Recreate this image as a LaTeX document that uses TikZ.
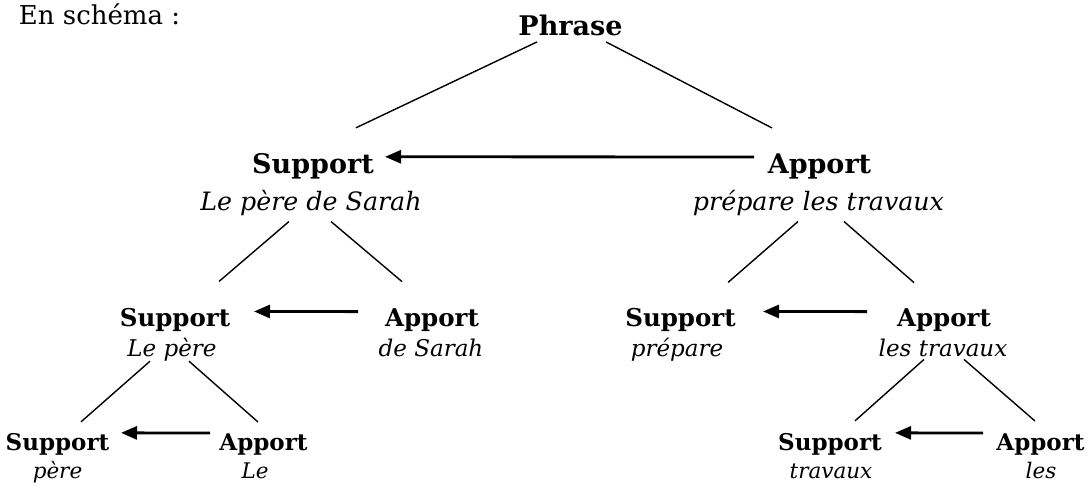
\documentclass[tikz,border=0pt]{standalone}
\usepackage{fontspec}
\setmainfont{DejaVu Serif}
\usetikzlibrary{arrows.meta,calc}
\begin{document}
\begin{tikzpicture}[x=1pt,y=-1pt,
  lbl/.style={anchor=base,inner sep=0pt,outer sep=0pt},
  hA/.style={lbl,font=\fontsize{27}{32}\selectfont\bfseries},
  iA/.style={lbl,font=\fontsize{25.3}{30}\selectfont\itshape},
  hB/.style={lbl,font=\fontsize{24.5}{30}\selectfont\bfseries},
  iB/.style={lbl,font=\fontsize{23}{28}\selectfont\itshape},
  hC/.style={lbl,font=\fontsize{23}{28}\selectfont\bfseries},
  iC/.style={lbl,font=\fontsize{21.5}{26}\selectfont\itshape},
  tree/.style={line width=1.4pt},
  arr/.style={line width=2.8pt,-{Triangle[length=16pt,width=13pt]}}]
\useasboundingbox (0,0) rectangle (1090,487);
% title
\node[lbl,anchor=base west,font=\fontsize{26}{31}\selectfont] (title) at (19,25) {En schéma :};
% level 0
\node[hA] (ph) at (570.5,36) {Phrase};
% level 1
\node[hA] (s1) at (313,173) {Support};
\node[iA] (s1t) at (311,210) {Le père de Sarah};
\node[hA] (a1) at (819.5,173) {Apport};
\node[iA] (a1t) at (818.5,210) {prépare les travaux};
% level 2
\node[hB] (s2) at (175,326) {Support};
\node[iB] (s2t) at (172,356) {Le père};
\node[hB] (a2) at (432,326) {Apport};
\node[iB] (a2t) at (431,356) {de Sarah};
\node[hB] (s3) at (680.5,326) {Support};
\node[iB] (s3t) at (677,356) {prépare};
\node[hB] (a3) at (944,326) {Apport};
\node[iB] (a3t) at (943,356) {les travaux};
% level 3
\node[hC] (s4) at (57.5,450) {Support};
\node[iC] (s4t) at (57.5,478) {père};
\node[hC] (a4) at (263.5,450) {Apport};
\node[iC] (a4t) at (255,478) {Le};
\node[hC] (s5) at (830,450) {Support};
\node[iC] (s5t) at (831,478) {travaux};
\node[hC] (a5) at (1040.5,450) {Apport};
\node[iC] (a5t) at (1041,478) {les};
% tree lines
\draw[tree] ($(ph)+(-33.5,16)$) -- ($(s1)+(43,-38)$);
\draw[tree] ($(ph)+(35.5,16)$) -- ($(a1)+(-47.5,-38)$);
\draw[tree] ($(s1t)+(-22,19)$) -- ($(s2)+(44,-38)$);
\draw[tree] ($(s1t)+(20,19)$) -- ($(a2)+(-30,-38)$);
\draw[tree] ($(a1t)+(-20.5,19)$) -- ($(s3)+(47.5,-37)$);
\draw[tree] ($(a1t)+(25.5,19)$) -- ($(a3)+(-30,-37)$);
\draw[tree] ($(s2t)+(-22,12)$) -- ($(s4)+(23.5,-22)$);
\draw[tree] ($(s2t)+(17,12)$) -- ($(a4)+(-5.5,-22)$);
\draw[tree] ($(a3t)+(-19,12)$) -- ($(s5)+(25,-23)$);
\draw[tree] ($(a3t)+(21,12)$) -- ($(a5)+(-5.5,-23)$);
% arrows
\draw[arr] ($(a1)+(-65.5,-9)$) -- ($(s1)+(72,-9)$);
\draw[arr] ($(a2)+(-74,-8)$) -- ($(s2)+(79,-8)$);
\draw[arr] ($(a3)+(-77,-8)$) -- ($(s3)+(82.5,-8)$);
\draw[arr] ($(a4)+(-53.5,-11)$) -- ($(s4)+(63.5,-11)$);
\draw[arr] ($(a5)+(-57.5,-11)$) -- ($(s5)+(65,-11)$);
\end{tikzpicture}
\end{document}
